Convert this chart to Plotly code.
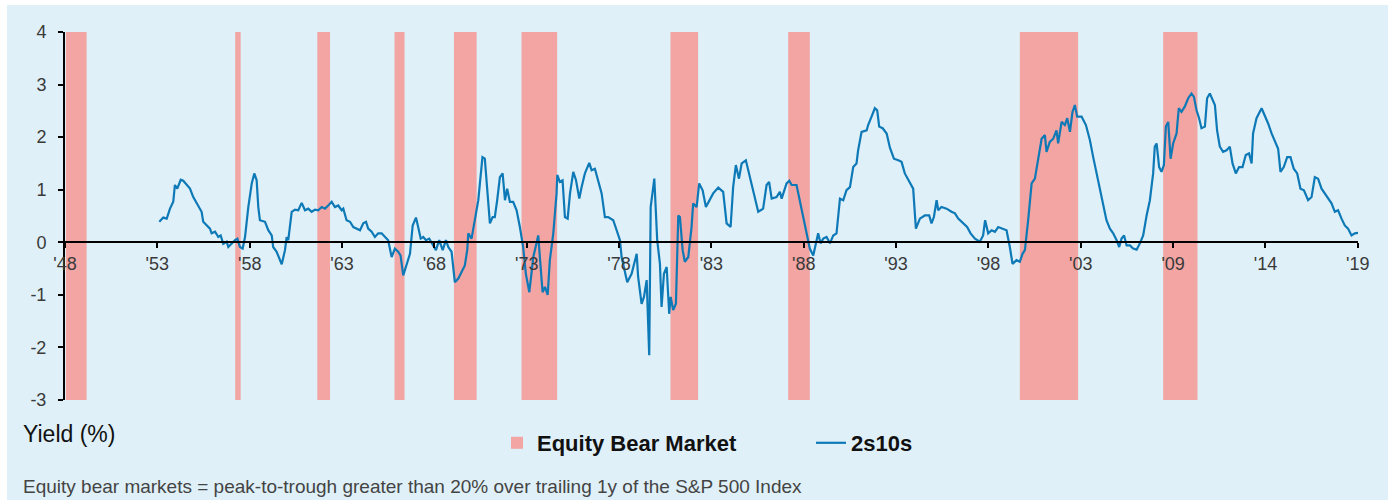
import plotly.graph_objects as go

# ---- data -------------------------------------------------------------
years = [
    1953.19, 1953.41, 1953.60, 1953.78, 1953.96, 1954.05, 1954.18, 1954.37, 1954.51, 1954.70,
    1954.88, 1955.06, 1955.25, 1955.52, 1955.61, 1955.80, 1955.98, 1956.07, 1956.26, 1956.44,
    1956.57, 1956.71, 1956.90, 1956.99, 1957.17, 1957.36, 1957.49, 1957.63, 1957.78, 1957.91,
    1958.09, 1958.28, 1958.42, 1958.55, 1958.64, 1958.73, 1959.01, 1959.19, 1959.38, 1959.46,
    1959.65, 1959.93, 1960.11, 1960.20, 1960.29, 1960.48, 1960.66, 1960.84, 1961.03, 1961.21,
    1961.39, 1961.58, 1961.76, 1961.94, 1962.13, 1962.31, 1962.49, 1962.68, 1962.86, 1963.04,
    1963.23, 1963.32, 1963.50, 1963.69, 1963.87, 1964.05, 1964.24, 1964.42, 1964.57, 1964.69,
    1964.88, 1965.06, 1965.24, 1965.43, 1965.61, 1965.79, 1965.98, 1966.16, 1966.34, 1966.47,
    1966.62, 1966.80, 1966.99, 1967.14, 1967.32, 1967.44, 1967.58, 1967.72, 1967.87, 1968.05,
    1968.24, 1968.42, 1968.60, 1968.79, 1968.97, 1969.10, 1969.28, 1969.46, 1969.65, 1969.83,
    1970.01, 1970.14, 1970.20, 1970.38, 1970.56, 1970.75, 1970.84, 1970.98, 1971.11, 1971.24,
    1971.39, 1971.54, 1971.66, 1971.79, 1971.94, 1972.09, 1972.22, 1972.34, 1972.49, 1972.67,
    1972.86, 1973.04, 1973.22, 1973.37, 1973.56, 1973.78, 1973.96, 1974.05, 1974.14, 1974.29,
    1974.42, 1974.57, 1974.69, 1974.88, 1975.06, 1975.10, 1975.24, 1975.39, 1975.52, 1975.67,
    1975.80, 1975.98, 1976.13, 1976.31, 1976.44, 1976.62, 1976.86, 1976.99, 1977.17, 1977.35,
    1977.54, 1977.72, 1977.90, 1978.18, 1978.37, 1978.55, 1978.64, 1978.82, 1978.95, 1979.19,
    1979.47, 1979.55, 1979.74, 1979.87, 1980.02, 1980.16, 1980.24, 1980.44, 1980.60, 1980.75,
    1980.84, 1980.97, 1981.12, 1981.26, 1981.34, 1981.48, 1981.63, 1981.76, 1981.85, 1982.00,
    1982.12, 1982.31, 1982.49, 1982.58, 1982.77, 1982.91, 1983.10, 1983.28, 1983.50, 1983.68,
    1983.96, 1984.23, 1984.42, 1984.64, 1984.78, 1984.93, 1985.10, 1985.25, 1985.48, 1985.70,
    1985.98, 1986.16, 1986.43, 1986.62, 1986.76, 1986.90, 1987.17, 1987.35, 1987.45, 1987.72,
    1987.87, 1988.00, 1988.27, 1988.45, 1988.64, 1988.82, 1989.00, 1989.19, 1989.34, 1989.46,
    1989.59, 1989.74, 1989.92, 1990.11, 1990.29, 1990.47, 1990.66, 1990.84, 1991.02, 1991.21,
    1991.39, 1991.57, 1991.66, 1991.85, 1992.13, 1992.21, 1992.40, 1992.58, 1992.71, 1992.82,
    1993.01, 1993.23, 1993.41, 1993.63, 1993.87, 1994.05, 1994.23, 1994.51, 1994.69, 1994.84,
    1995.06, 1995.33, 1995.57, 1995.70, 1995.83, 1995.98, 1996.07, 1996.25, 1996.53, 1996.80,
    1996.99, 1997.17, 1997.44, 1997.66, 1997.85, 1998.09, 1998.36, 1998.54, 1998.65, 1998.82,
    1999.01, 1999.19, 1999.37, 1999.64, 1999.83, 2000.01, 2000.16, 2000.38, 2000.56, 2000.71,
    2000.84, 2001.02, 2001.21, 2001.39, 2001.57, 2001.76, 2001.94, 2002.03, 2002.21, 2002.40,
    2002.58, 2002.67, 2002.86, 2003.04, 2003.17, 2003.32, 2003.46, 2003.59, 2003.72, 2003.96,
    2004.20, 2004.42, 2004.60, 2004.79, 2004.97, 2005.15, 2005.33, 2005.52, 2005.70, 2005.89,
    2006.03, 2006.16, 2006.30, 2006.44, 2006.62, 2006.80, 2006.99, 2007.17, 2007.35, 2007.54,
    2007.72, 2007.90, 2007.99, 2008.09, 2008.23, 2008.36, 2008.49, 2008.60, 2008.73, 2008.86,
    2009.00, 2009.19, 2009.31, 2009.46, 2009.64, 2009.83, 2010.01, 2010.14, 2010.29, 2010.43,
    2010.56, 2010.75, 2010.87, 2011.02, 2011.17, 2011.30, 2011.42, 2011.57, 2011.75, 2011.94,
    2012.12, 2012.27, 2012.45, 2012.63, 2012.82, 2013.00, 2013.18, 2013.32, 2013.40, 2013.59,
    2013.87, 2014.05, 2014.23, 2014.42, 2014.60, 2014.78, 2014.91, 2015.09, 2015.28, 2015.46,
    2015.64, 2015.83, 2016.01, 2016.20, 2016.43, 2016.62, 2016.80, 2016.98, 2017.17, 2017.35,
    2017.53, 2017.72, 2017.90, 2018.08, 2018.27, 2018.45, 2018.63, 2018.82, 2019.00, 2019.18,
]

spread_2s10s = [
    0.39, 0.47, 0.45, 0.64, 0.77, 1.09, 1.02, 1.19, 1.17, 1.09,
    1.02, 0.86, 0.74, 0.58, 0.39, 0.32, 0.26, 0.17, 0.20, 0.10,
    0.13, -0.03, 0.01, -0.09, -0.02, 0.04, 0.07, -0.09, -0.12, 0.10,
    0.67, 1.12, 1.31, 1.18, 0.67, 0.42, 0.39, 0.23, 0.13, -0.09,
    -0.18, -0.42, -0.15, 0.10, 0.04, 0.58, 0.62, 0.61, 0.75, 0.61,
    0.64, 0.58, 0.62, 0.61, 0.67, 0.64, 0.70, 0.77, 0.67, 0.70,
    0.61, 0.64, 0.42, 0.39, 0.29, 0.26, 0.23, 0.36, 0.39, 0.26,
    0.20, 0.10, 0.17, 0.17, 0.10, 0.04, -0.28, -0.12, -0.18, -0.25,
    -0.63, -0.41, -0.22, 0.32, 0.47, 0.29, 0.07, 0.10, 0.04, 0.07,
    -0.03, -0.15, 0.04, -0.15, 0.04, -0.09, -0.18, -0.76, -0.69, -0.57,
    -0.44, -0.15, 0.17, 0.07, 0.42, 0.80, 1.12, 1.62, 1.59, 0.99,
    0.36, 0.48, 0.48, 0.80, 1.24, 1.31, 0.80, 1.02, 0.77, 0.77,
    0.61, 0.29, -0.09, -0.60, -0.95, -0.28, 0.04, 0.13, -0.28, -0.95,
    -0.85, -1.00, -0.34, 0.17, 0.93, 1.28, 1.15, 1.18, 0.48, 0.45,
    0.93, 1.34, 1.18, 0.83, 1.05, 1.31, 1.51, 1.37, 1.40, 1.18,
    0.93, 0.48, 0.48, 0.42, 0.23, 0.04, -0.28, -0.60, -0.76, -0.60,
    -0.22, -0.66, -1.17, -1.04, -0.72, -2.15, 0.67, 1.21, 0.04, -0.41,
    -1.23, -0.60, -0.47, -1.36, -1.04, -1.29, -1.17, 0.51, 0.48, -0.15,
    -0.37, -0.28, 0.29, 0.74, 0.67, 1.12, 0.99, 0.67, 0.80, 0.93,
    1.04, 0.96, 0.36, 0.29, 1.05, 1.47, 1.21, 1.50, 1.56, 1.24,
    0.86, 0.58, 0.64, 1.09, 1.15, 0.83, 0.86, 0.96, 0.83, 1.12,
    1.17, 1.09, 1.09, 0.80, 0.51, 0.20, -0.12, -0.25, -0.02, 0.17,
    -0.02, 0.07, 0.10, -0.02, 0.13, 0.17, 0.83, 0.80, 0.99, 1.05,
    1.43, 1.50, 1.75, 2.10, 2.13, 2.23, 2.39, 2.55, 2.51, 2.20,
    2.17, 2.07, 1.80, 1.59, 1.56, 1.53, 1.31, 1.12, 1.02, 0.26,
    0.45, 0.51, 0.51, 0.36, 0.48, 0.80, 0.61, 0.67, 0.64, 0.58,
    0.55, 0.45, 0.36, 0.29, 0.17, 0.07, 0.01, 0.13, 0.42, 0.17,
    0.23, 0.20, 0.29, 0.26, 0.23, -0.09, -0.41, -0.34, -0.37, -0.22,
    -0.15, 0.42, 1.12, 1.21, 1.56, 1.97, 2.04, 1.72, 1.91, 1.97,
    2.13, 1.88, 2.29, 2.23, 2.36, 2.10, 2.48, 2.61, 2.39, 2.39,
    2.23, 1.94, 1.62, 1.31, 1.02, 0.74, 0.42, 0.26, 0.17, 0.04,
    -0.09, 0.07, 0.13, -0.06, -0.06, -0.12, -0.14, -0.02, 0.13, 0.51,
    0.80, 1.31, 1.82, 1.88, 1.43, 1.34, 1.47, 2.20, 2.29, 1.59,
    1.88, 2.07, 2.55, 2.48, 2.58, 2.74, 2.83, 2.77, 2.51, 2.36,
    2.17, 2.20, 2.74, 2.83, 2.70, 2.61, 2.13, 1.82, 1.72, 1.75,
    1.82, 1.50, 1.31, 1.43, 1.43, 1.66, 1.69, 1.50, 2.07, 2.36,
    2.55, 2.42, 2.26, 2.07, 1.91, 1.78, 1.34, 1.43, 1.62, 1.62,
    1.40, 1.31, 1.02, 0.99, 0.80, 0.86, 1.24, 1.21, 1.02, 0.93,
    0.83, 0.74, 0.58, 0.61, 0.45, 0.32, 0.26, 0.13, 0.17, 0.18,
]

bear_start = [1948.05, 1957.37, 1961.89, 1966.14, 1969.41, 1973.13, 1981.33, 1987.81, 2000.56, 2008.45]
bear_end   = [1949.19, 1957.67, 1962.59, 1966.69, 1970.66, 1975.09, 1982.85, 1989.00, 2003.77, 2010.34]

tick_labels = ["'48", "'53", "'58", "'63", "'68", "'73", "'78", "'83", "'88", "'93",
               "'98", "'03", "'09", "'14", "'19"]
y_ticks = [4, 3, 2, 1, 0, -1, -2, -3]
y_tick_labels = ["4", "3", "2", "1", "0", "-1", "-2", "-3"]

# ---- style ------------------------------------------------------------
BG = "#DFF0F8"
PINK = "#F2A5A3"
BLUE = "#0E79B7"
FONT = "Liberation Sans"
Y_MIN, Y_MAX = -3, 4

# tick positions: every 61 months from Jan 1948
tick_pos = [1948 + 61 * k / 12 for k in range(len(tick_labels))]

fig = go.Figure()

fig.add_trace(go.Bar(
    x=[(s + e) / 2 for s, e in zip(bear_start, bear_end)],
    width=[e - s for s, e in zip(bear_start, bear_end)],
    y=[Y_MAX - Y_MIN] * len(bear_start),
    base=[Y_MIN] * len(bear_start),
    marker=dict(color=PINK, line=dict(width=0)),
    name="Equity Bear Market",
    legend="legend",
    showlegend=True,
    hoverinfo="skip",
))

fig.add_trace(go.Scatter(
    x=years, y=spread_2s10s,
    mode="lines",
    line=dict(color=BLUE, width=2.2),
    name="2s10s",
    legend="legend2",
    showlegend=True,
))

W, H = 1394, 503
L, R, T, B = 65, 36, 32, 103
pw, ph = W - L - R, H - T - B


def px_x(px):
    return (px - L) / pw


def px_y(py):
    return (H - B - py) / ph


LEG_FONT = dict(size=22, color="#111111", family=FONT, weight="bold")

fig.update_layout(
    width=W, height=H,
    margin=dict(l=L, r=R, t=T, b=B, autoexpand=False),
    paper_bgcolor="white",
    plot_bgcolor=BG,
    font=dict(family=FONT, color="#333333"),
    barmode="overlay",
    showlegend=True,
    xaxis=dict(
        range=[1948, tick_pos[-1] + 0.01],
        tickvals=tick_pos, ticktext=tick_labels,
        showgrid=False, zeroline=False,
        showline=True, linecolor="black", linewidth=2,
        ticks="outside", ticklen=5, tickwidth=2, tickcolor="black",
        tickfont=dict(size=18, color="#3a3a3a", family=FONT),
        anchor="free", position=(0 - Y_MIN) / (Y_MAX - Y_MIN),
        automargin=False,
    ),
    yaxis=dict(
        range=[Y_MIN, Y_MAX],
        tickvals=y_ticks, ticktext=y_tick_labels,
        showgrid=False, zeroline=False,
        showline=True, linecolor="black", linewidth=2,
        ticks="outside", ticklen=5, tickwidth=2, tickcolor="black",
        tickfont=dict(size=18, color="#3a3a3a", family=FONT),
        ticklabelstandoff=8,
        automargin=False,
    ),
    legend=dict(
        orientation="h", x=px_x(497), xanchor="left",
        y=px_y(443), yanchor="middle",
        bgcolor="rgba(0,0,0,0)",
        font=LEG_FONT,
    ),
    legend2=dict(
        orientation="h", x=px_x(811), xanchor="left",
        y=px_y(443), yanchor="middle",
        bgcolor="rgba(0,0,0,0)",
        font=LEG_FONT,
        visible=True,
    ),
    shapes=[dict(
        type="rect", xref="paper", yref="paper", layer="below",
        x0=px_x(7), x1=px_x(1388), y0=px_y(500), y1=px_y(5),
        fillcolor=BG, line=dict(width=0),
    )],
    annotations=[
        dict(text="Yield (%)", xref="paper", yref="paper",
             x=px_x(21), y=px_y(434), xanchor="left", yanchor="middle",
             showarrow=False, font=dict(size=23, color="#111111", family=FONT)),
        dict(text="Equity bear markets = peak-to-trough greater than 20% over trailing 1y of the S&P 500 Index",
             xref="paper", yref="paper",
             x=px_x(21), y=px_y(487), xanchor="left", yanchor="middle",
             showarrow=False, font=dict(size=19, color="#444444", family=FONT)),
    ],
)

fig.write_html("out.html", config={"displayModeBar": False},
               post_script="document.body.style.margin='0px';")
